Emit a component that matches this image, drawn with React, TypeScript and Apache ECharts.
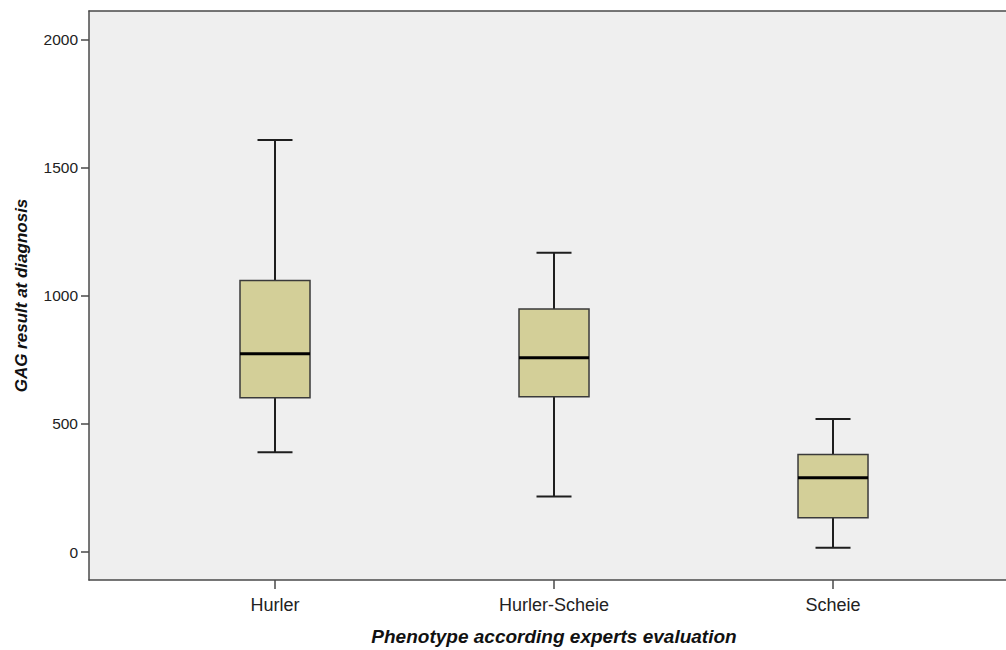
import React, { useEffect, useRef } from "react";
import * as echarts from "echarts";

const categories = ["Hurler", "Hurler-Scheie", "Scheie"];
const whiskerLow = [389, 217, 17];
const q1 = [602, 606, 134];
const median = [774, 758, 290];
const q3 = [1060, 948, 381];
const whiskerHigh = [1608, 1168, 519];
const yTicks = [0, 500, 1000, 1500, 2000];
const xTicks = [1, 2, 3];

const FONT = "'Liberation Sans', Arial, sans-serif";
const AXIS_COLOR = "#4a4a4a";

export default function App() {
  const ref = useRef<HTMLDivElement>(null);
  useEffect(() => {
    if (!ref.current) return;
    const chart = echarts.init(ref.current, null, { renderer: "svg" });
    const data = categories.map((_, i) => [
      i + 1,
      whiskerLow[i],
      q1[i],
      median[i],
      q3[i],
      whiskerHigh[i],
    ]);
    const xMin = 1 / 3;
    const xMax = 3.62;
    chart.setOption({
      animation: false,
      textStyle: { fontFamily: FONT },
      grid: {
        left: 89,
        top: 11,
        bottom: 70,
        right: 0,
        outerBoundsMode: "none",
        containLabel: false,
        show: true,
        backgroundColor: "#efefef",
        borderWidth: 0,
      },
      xAxis: [
        {
          type: "value",
          min: xMin,
          max: xMax,
          name: "Phenotype according experts evaluation",
          nameLocation: "middle",
          nameGap: 47,
          nameTextStyle: {
            fontFamily: FONT,
            fontSize: 19,
            fontWeight: "bold",
            fontStyle: "italic",
            color: "#111",
            padding: [0, 0, 0, 13],
          },
          axisLine: { show: true, onZero: false, lineStyle: { color: AXIS_COLOR, width: 1.5 } },
          axisTick: {
            show: true,
            customValues: xTicks,
            length: 9,
            lineStyle: { color: AXIS_COLOR, width: 1.5 },
          },
          axisLabel: {
            customValues: xTicks,
            formatter: (v: number) => categories[Math.round(v) - 1] ?? "",
            fontSize: 18,
            color: "#222",
            margin: 16,
          },
          splitLine: { show: false },
        },
        {
          type: "value",
          position: "top",
          min: xMin,
          max: xMax,
          axisLine: { show: true, onZero: false, lineStyle: { color: AXIS_COLOR, width: 1.5 } },
          axisTick: { show: false },
          axisLabel: { show: false },
          splitLine: { show: false },
        },
      ],
      yAxis: {
        type: "value",
        min: -109,
        max: 2111,
        name: "GAG result at diagnosis",
        nameLocation: "middle",
        nameGap: 59,
        nameRotate: 90,
        nameTextStyle: {
          fontFamily: FONT,
          fontSize: 17,
          fontWeight: "bold",
          fontStyle: "italic",
          color: "#111",
        },
        axisLine: { show: true, onZero: false, lineStyle: { color: AXIS_COLOR, width: 1.5 } },
        axisTick: {
          show: true,
          customValues: yTicks,
          length: 8,
          lineStyle: { color: AXIS_COLOR, width: 1.5 },
        },
        axisLabel: {
          customValues: yTicks,
          formatter: (v: number) => String(v),
          fontSize: 15.5,
          color: "#222",
          margin: 11,
        },
        splitLine: { show: false },
      },
      series: [
        {
          type: "custom",
          xAxisIndex: 0,
          data,
          encode: { x: 0, y: [1, 2, 3, 4, 5] },
          renderItem: (params: any, api: any) => {
            const x = api.value(0);
            const pLo = api.coord([x, api.value(1)]);
            const pQ1 = api.coord([x, api.value(2)]);
            const pMed = api.coord([x, api.value(3)]);
            const pQ3 = api.coord([x, api.value(4)]);
            const pHi = api.coord([x, api.value(5)]);
            const cx = pLo[0];
            const halfBox = 35;
            const halfCap = 17.5;
            const wStyle = { stroke: "#1e1e1e", lineWidth: 2 };
            return {
              type: "group",
              children: [
                { type: "line", shape: { x1: cx, y1: pHi[1], x2: cx, y2: pQ3[1] }, style: wStyle },
                { type: "line", shape: { x1: cx, y1: pQ1[1], x2: cx, y2: pLo[1] }, style: wStyle },
                { type: "line", shape: { x1: cx - halfCap, y1: pHi[1], x2: cx + halfCap, y2: pHi[1] }, style: wStyle },
                { type: "line", shape: { x1: cx - halfCap, y1: pLo[1], x2: cx + halfCap, y2: pLo[1] }, style: wStyle },
                {
                  type: "rect",
                  shape: { x: cx - halfBox, y: pQ3[1], width: halfBox * 2, height: pQ1[1] - pQ3[1] },
                  style: { fill: "#d3cf98", stroke: "#3a3a3a", lineWidth: 1.5 },
                },
                {
                  type: "line",
                  shape: { x1: cx - halfBox, y1: pMed[1], x2: cx + halfBox, y2: pMed[1] },
                  style: { stroke: "#000", lineWidth: 3 },
                },
              ],
            };
          },
        },
      ],
    });
    return () => chart.dispose();
  }, []);
  return (
    <div
      ref={ref}
      style={{ position: "fixed", left: 0, top: 0, width: 1006, height: 650, background: "#fff" }}
    />
  );
}
